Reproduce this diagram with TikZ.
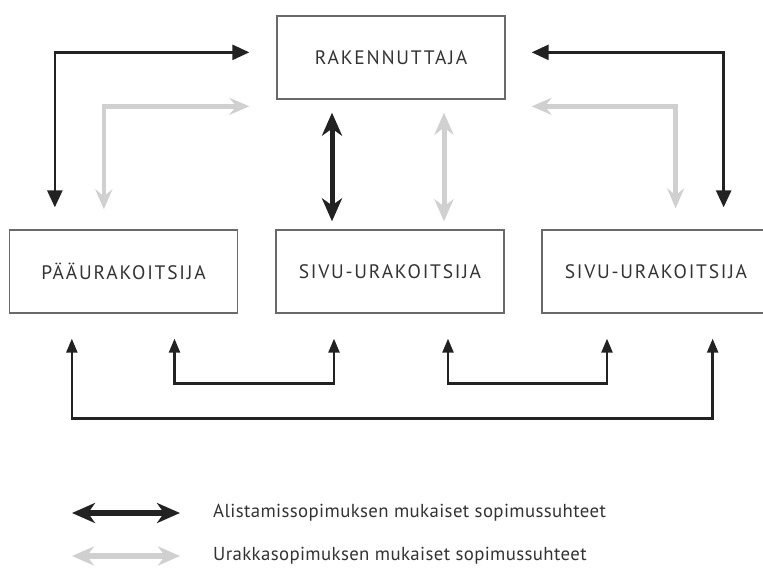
\documentclass[tikz,border=0pt]{standalone}
\usepackage{fontspec}
\setmainfont{PT Sans}
\newfontfamily\capsfont[LetterSpace=9]{PT Sans}
\newfontfamily\legfont[LetterSpace=2]{PT Sans}
\usetikzlibrary{arrows.meta}
\definecolor{dk}{HTML}{222222}
\definecolor{lg}{HTML}{D0D0D0}
\definecolor{bx}{HTML}{6A6A6A}
\definecolor{tx}{HTML}{333333}
\tikzset{
  box/.style={draw=bx, line width=1.3pt, minimum width=228pt, minimum height=83pt,
    inner sep=0pt, text=tx, font=\capsfont\fontsize{19.5}{22}\selectfont},
  blkL/.style={draw=dk, line width=2.6pt, {Triangle[length=17pt,width=15pt]}-{Triangle[length=17pt,width=15pt]}},
  gryL/.style={draw=lg, line width=4.5pt, {Stealth[length=20pt,width=17pt,inset=7pt]}-{Stealth[length=20pt,width=17pt,inset=7pt]}},
  blkD/.style={draw=dk, line width=5pt, {Stealth[length=23pt,width=20pt,inset=7pt]}-{Stealth[length=23pt,width=20pt,inset=7pt]}},
  gryD/.style={draw=lg, line width=5pt, {Stealth[length=22pt,width=19pt,inset=7pt]}-{Stealth[length=22pt,width=19pt,inset=7pt]}},
  bot/.style={draw=dk, line width=2.4pt, {Triangle[length=14pt,width=11pt]}-{Triangle[length=14pt,width=11pt]}},
  legtxt/.style={text=tx, anchor=west, inner sep=0pt, font=\legfont\fontsize{18.8}{22}\selectfont},
}
\begin{document}
\begin{tikzpicture}[x=1pt,y=-1pt]
\useasboundingbox (0,0) rectangle (763,568);
\node[box] (rak) at (391,57.5) {RAKENNUTTAJA};
\node[box] (paa) at (123.5,271.5) {PÄÄURAKOITSIJA};
\node[box] (siv1) at (390,271.5) {SIVU-URAKOITSIJA};
\node[box] (siv2) at (656,271.5) {SIVU-URAKOITSIJA};
% top L arrows
\draw[blkL, shorten <=22pt, shorten >=27pt] ([xshift=46pt]paa.north west) |- ([yshift=-37pt]rak.north west);
\draw[gryL, shorten <=20pt, shorten >=27pt] ([xshift=95pt]paa.north west) |- ([yshift=-91pt]rak.north west);
\draw[blkL, shorten <=22pt, shorten >=26pt] ([xshift=-47pt]siv2.north east) |- ([yshift=-37pt]rak.north east);
\draw[gryL, shorten <=21pt, shorten >=26pt] ([xshift=-95pt]siv2.north east) |- ([yshift=-91pt]rak.north east);
% vertical double arrows
\draw[blkD, shorten <=13pt, shorten >=8pt] ([xshift=-59pt]rak.south) -- ([xshift=-58pt]siv1.north);
\draw[gryD, shorten <=13pt, shorten >=8pt] ([xshift=53pt]rak.south) -- ([xshift=54pt]siv1.north);
% bottom arrows
\draw[bot, shorten <=25pt, shorten >=25pt] ([xshift=63pt]paa.south west) -- ++(0,105) -| ([xshift=-58pt]siv2.south east);
\draw[bot, shorten <=25pt, shorten >=25pt] ([xshift=51pt]paa.south) -- ++(0,70) -| ([xshift=-56pt]siv1.south);
\draw[bot, shorten <=25pt, shorten >=25pt] ([xshift=58pt]siv1.south) -- ++(0,70) -| ([xshift=-49pt]siv2.south);
% legend
\node[legtxt] (l1) at (213,513) {Alistamissopimuksen mukaiset sopimussuhteet};
\node[legtxt] (l2) at (213,556) {Urakkasopimuksen mukaiset sopimussuhteet};
\coordinate (a1) at (72,513);
\coordinate (a2) at (72,556);
\draw[blkD, line width=5.5pt] (a1) -- ([xshift=-33pt]l1.west);
\draw[gryD, line width=5.5pt] (a2) -- ([xshift=-33pt]l2.west);
\end{tikzpicture}
\end{document}
